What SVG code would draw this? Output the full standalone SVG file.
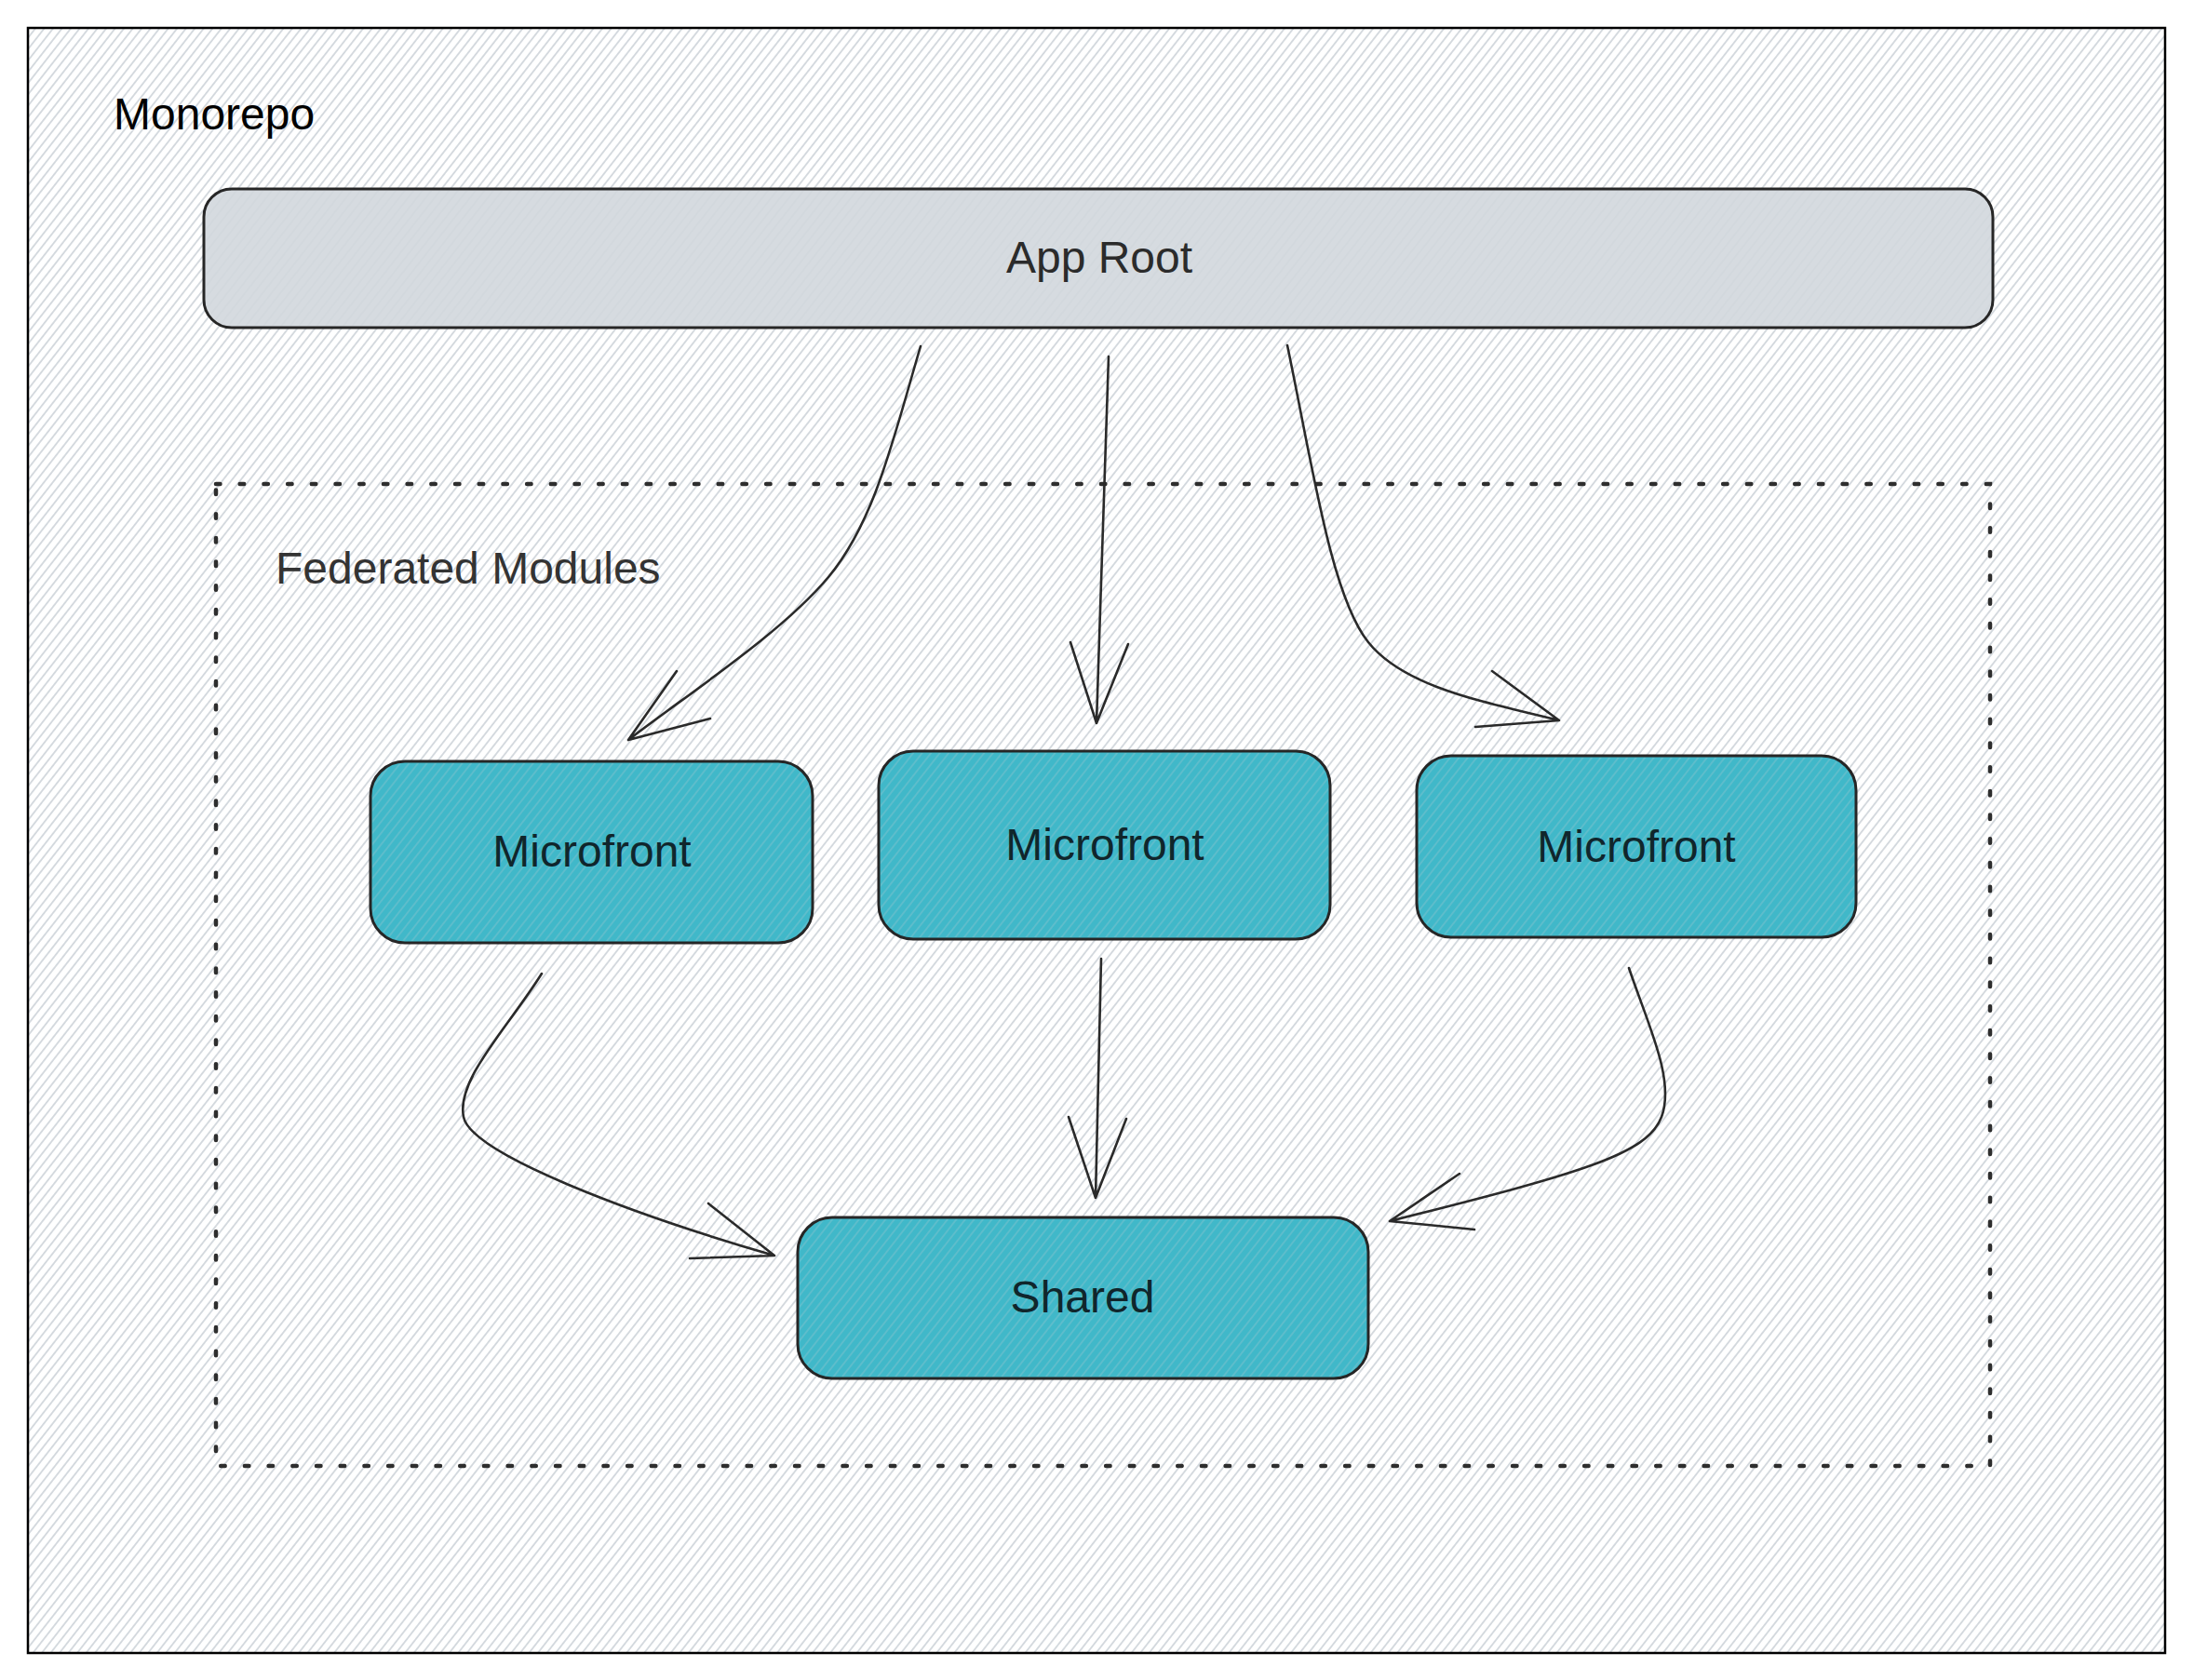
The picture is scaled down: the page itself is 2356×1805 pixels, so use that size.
<svg xmlns="http://www.w3.org/2000/svg" width="2356" height="1805" viewBox="0 0 2356 1805">
<defs>
<pattern id="hatch" patternUnits="userSpaceOnUse" width="7.5" height="7.5" patternTransform="rotate(38)">
<line x1="3.75" y1="0" x2="3.75" y2="7.5" stroke="#c6ccd3" stroke-width="1.4"/>
</pattern>
<style>
.lbl{font-family:"Liberation Sans",Arial,sans-serif;font-size:48px}
.box{stroke:#262626;stroke-width:3}
.mf{fill:#40b8c9}
.mftext{fill:#10262c;text-anchor:middle}
.conn{fill:none;stroke:#2a2a2a;stroke-width:2.6;stroke-linecap:round;stroke-linejoin:round}
.overlay{fill:url(#hatch);opacity:0.3}
</style>
</defs>
<rect x="0" y="0" width="2356" height="1805" fill="#ffffff"/>
<g id="monorepo">
<rect x="30" y="30" width="2296" height="1746" fill="#ffffff"/>
<rect x="30" y="30" width="2296" height="1746" fill="url(#hatch)" stroke="#000000" stroke-width="2.5"/>
<text class="lbl" x="122" y="139" fill="#000000">Monorepo</text>
</g>
<g id="federated-modules">
<rect x="232" y="520" width="1906" height="1055" fill="none" stroke="#2e2e2e" stroke-width="4.5" stroke-dasharray="4.5 21.2" stroke-linecap="round"/>
<text class="lbl" x="296" y="627" fill="#333333">Federated Modules</text>
</g>
<g id="app-root">
<rect class="box" x="219" y="203" width="1922" height="149" rx="30" fill="#d6dbe0"/>
<rect class="overlay" x="221" y="205" width="1918" height="145" rx="28"/>
<text class="lbl" x="1181" y="293" fill="#2b2b2b" text-anchor="middle">App Root</text>
</g>
<g id="microfront-1">
<rect class="box mf" x="398" y="818" width="475" height="195" rx="37"/>
<rect class="overlay" x="400" y="820" width="471" height="191" rx="35"/>
<text class="lbl mftext" x="636" y="931">Microfront</text>
</g>
<g id="microfront-2">
<rect class="box mf" x="944" y="807" width="485" height="202" rx="37"/>
<rect class="overlay" x="946" y="809" width="481" height="198" rx="35"/>
<text class="lbl mftext" x="1187" y="924">Microfront</text>
</g>
<g id="microfront-3">
<rect class="box mf" x="1522" y="812" width="472" height="195" rx="37"/>
<rect class="overlay" x="1524" y="814" width="468" height="191" rx="35"/>
<text class="lbl mftext" x="1758" y="926">Microfront</text>
</g>
<g id="shared">
<rect class="box mf" x="857" y="1308" width="613" height="173" rx="37"/>
<rect class="overlay" x="859" y="1310" width="609" height="169" rx="35"/>
<text class="lbl mftext" x="1163" y="1410">Shared</text>
</g>
<g id="connectors">
<path class="conn" d="M989,372 C960,470 940,560 890,620 C840,680 740,745 675,795 M727,721 L675,795 L763,772"/>
<path class="conn" d="M1191,383 L1178,777 M1150,690 L1178,777 L1212,692"/>
<path class="conn" d="M1383,371 C1410,500 1430,640 1470,690 C1510,740 1600,755 1675,774 M1603,721 L1675,774 L1585,781"/>
<path class="conn" d="M582,1046 C545,1105 490,1160 498,1200 C506,1240 680,1305 832,1349 M761,1293 L832,1349 L741,1352"/>
<path class="conn" d="M1183,1030 L1177,1287 M1148,1200 L1177,1287 L1210,1202"/>
<path class="conn" d="M1750,1040 C1770,1100 1800,1160 1785,1200 C1770,1240 1700,1260 1493,1312 M1568,1261 L1493,1312 L1584,1321"/>
</g>
</svg>
